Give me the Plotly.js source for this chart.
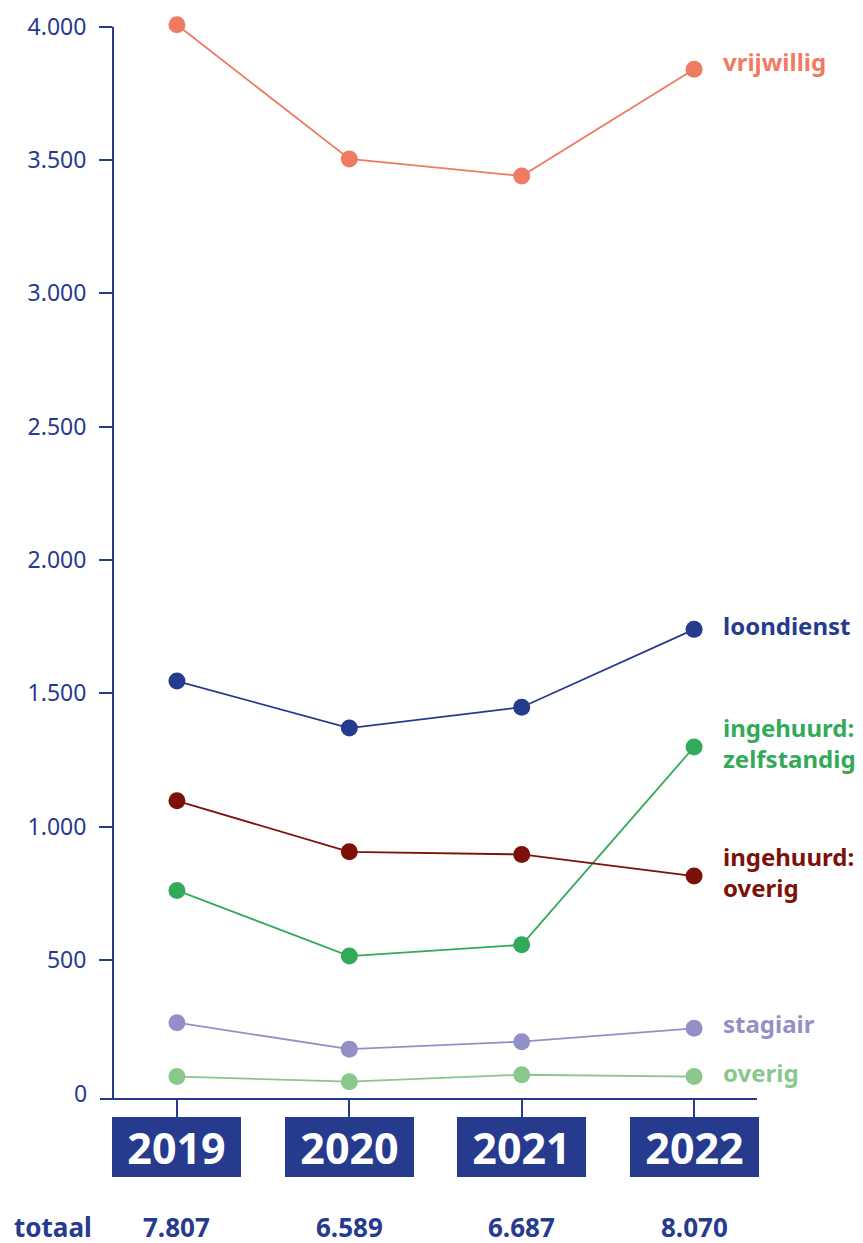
<!DOCTYPE html>
<html>
<head>
<meta charset="utf-8">
<script src="https://cdn.plot.ly/plotly-3.0.1.min.js"></script>
<style>
  html, body { margin: 0; padding: 0; background: #ffffff; }
  #chart { width: 863px; height: 1243px; }
</style>
</head>
<body>
<div id="chart"></div>
<script>
// ---- data ----
const years = [2019, 2020, 2021, 2022];
const totals = ['7.807', '6.589', '6.687', '8.070'];
const seriesNames = ['vrijwillig', 'loondienst', 'ingehuurd:<br>zelfstandig', 'ingehuurd:<br>overig', 'stagiair', 'overig'];
const vrijwillig = [4007, 3504, 3440, 3840];
const loondienst = [1546, 1370, 1448, 1740];
const zelfstandig = [761, 515, 557, 1299];
const ingehuurdOverig = [1097, 906, 896, 815];
const stagiair = [265, 166, 194, 244];
const overig = [63, 44, 70, 63];
const yTicks = [500, 1000, 1500, 2000, 2500, 3000, 3500, 4000];

// ---- styles ----
const NAVY = '#263a8e';
const colors = ['#ef7c62', '#263a8e', '#33aa5a', '#7b1108', '#9390c8', '#89c78a'];
const labelShift = [8, 4, 4, 4, 5, 4];
const seriesValues = [vrijwillig, loondienst, zelfstandig, ingehuurdOverig, stagiair, overig];
const FONT = 'Noto Sans, Open Sans, sans-serif';
const Y_MIN = -21, Y_MAX = 4040;

const traces = seriesValues.map((vals, i) => ({
  x: years,
  y: vals,
  type: 'scatter',
  mode: 'lines+markers',
  name: seriesNames[i].replace('<br>', ' '),
  line: { color: colors[i], width: 1.8 },
  marker: { color: colors[i], size: 17 },
  hoverinfo: 'x+y',
  cliponaxis: false
}));

const mt = 16.3, mb = 144;
const plotH = 1243 - mt - mb;
const plotW = 863 - 113 - 106;
const totalsY = -(1227 - 1099) / plotH;

const annotations = [];
// series labels
seriesValues.forEach((vals, i) => {
  annotations.push({
    x: years[years.length - 1], y: vals[vals.length - 1],
    xref: 'x', yref: 'y',
    text: '<b>' + seriesNames[i] + '</b>',
    showarrow: false, xanchor: 'left', yanchor: 'middle', align: 'left',
    xshift: 27, yshift: labelShift[i],
    font: { family: FONT, size: 24, color: colors[i] }
  });
});
// year boxes
years.forEach((yr) => {
  annotations.push({
    x: yr, y: -(1147 - 1099) / plotH, xref: 'x', yref: 'paper',
    text: '<b>' + yr + '</b>', showarrow: false,
    xanchor: 'center', yanchor: 'middle',
    width: 129, height: 60, borderpad: 0, borderwidth: 0,
    bgcolor: NAVY, valign: 'middle',
    font: { family: FONT, size: 43, color: '#ffffff' }
  });
});
// totals
annotations.push({
  x: (12 - 113) / plotW, y: totalsY, xref: 'paper', yref: 'paper',
  text: '<b>totaal</b>', showarrow: false, xanchor: 'left', yanchor: 'middle',
  height: 28, valign: 'middle',
  font: { family: FONT, size: 26, color: NAVY }
});
years.forEach((yr, i) => {
  annotations.push({
    x: yr, y: totalsY, xref: 'x', yref: 'paper',
    text: '<b>' + totals[i] + '</b>', showarrow: false,
    xanchor: 'center', yanchor: 'middle', height: 28, valign: 'middle',
    font: { family: FONT, size: 26, color: NAVY }
  });
});
// zero label
annotations.push({
  x: (89 - 113) / plotW, y: 0, xref: 'paper', yref: 'y',
  text: '0', showarrow: false, xanchor: 'right', yanchor: 'middle',
  font: { family: FONT, size: 23, color: NAVY }
});

const layout = {
  width: 863, height: 1243,
  margin: { l: 113, r: 106, t: mt, b: mb, pad: 0 },
  paper_bgcolor: '#ffffff', plot_bgcolor: '#ffffff',
  showlegend: false,
  separators: ',.',
  font: { family: FONT, color: NAVY },
  xaxis: {
    range: [2018.629, 2022.365],
    showgrid: false, zeroline: false, showline: false,
    ticks: 'outside', ticklen: 18, tickwidth: 2, tickcolor: NAVY,
    tickvals: years, showticklabels: false, fixedrange: true
  },
  yaxis: {
    range: [Y_MIN, Y_MAX],
    showgrid: false, zeroline: false, showline: false,
    ticks: 'outside', ticklen: 13, tickwidth: 2, tickcolor: NAVY,
    tickvals: yTicks, tickformat: ',d',
    ticklabelstandoff: 8,
    tickfont: { family: FONT, size: 23, color: NAVY },
    fixedrange: true
  },
  shapes: [
    { // x axis line, extended past the y axis
      type: 'line', xref: 'paper', yref: 'paper',
      x0: -13 / plotW, x1: 1, y0: 0, y1: 0,
      line: { color: NAVY, width: 2 }, layer: 'below'
    },
    { // y axis line, from bottom up to the top tick
      type: 'line', xref: 'paper', yref: 'y',
      x0: 0, x1: 0, y0: Y_MIN, y1: yTicks[yTicks.length - 1],
      line: { color: NAVY, width: 2 }, layer: 'below'
    }
  ],
  annotations: annotations
};

Plotly.newPlot('chart', traces, layout, { displayModeBar: false, staticPlot: true });
</script>
</body>
</html>
